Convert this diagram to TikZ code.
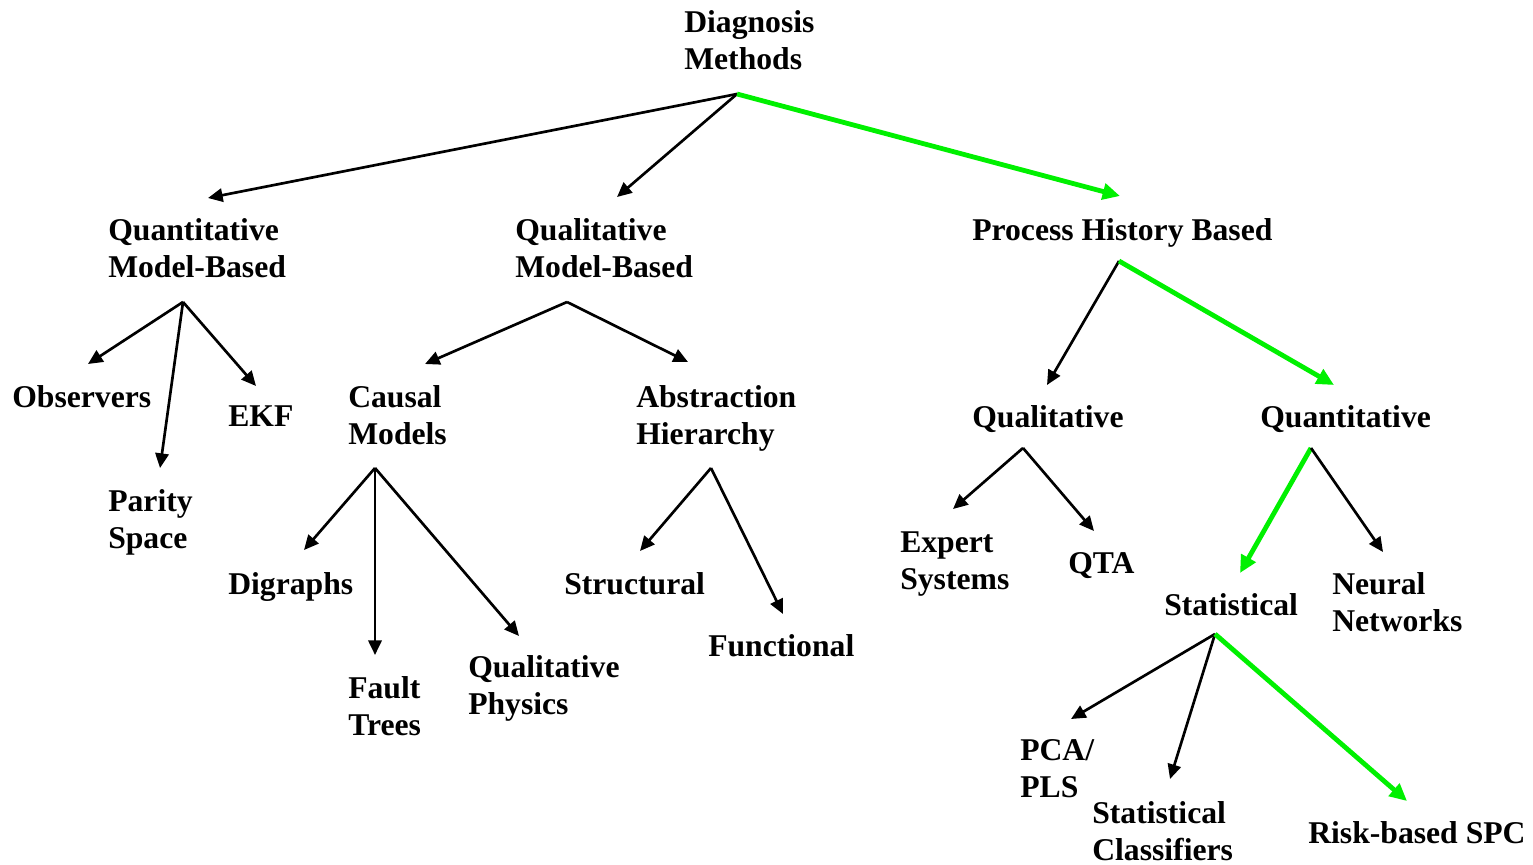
\documentclass[tikz,border=0pt]{standalone}
\usepackage{fontspec}
\setmainfont{Liberation Serif}
\usetikzlibrary{arrows.meta}
\definecolor{pathgreen}{RGB}{0,240,0}
\begin{document}
\begin{tikzpicture}[x=0.75pt,y=-0.75pt,
  lbl/.style={anchor=west,inner sep=0pt,align=left,
    font=\fontsize{23.75}{27.75}\selectfont\bfseries},
  link/.style={draw=black,line width=2pt,-{Triangle[length=11pt,width=10pt]}},
  hot/.style={draw=pathgreen,line width=3.6pt,-{Triangle[length=13pt,width=12pt]}}]
\useasboundingbox (0,0) rectangle (1533,864);

% ---- labels ----
\node[lbl] (dm)   at (684,44)    {\strut Diagnosis\\\strut Methods};
\node[lbl] (qnmb) at (108,251.5) {\strut Quantitative\\\strut Model-Based};
\node[lbl] (qlmb) at (515,251.5) {\strut Qualitative\\\strut Model-Based};
\node[lbl] (phb)  at (972,233)   {\strut Process History Based};
\node[lbl] (obs)  at (12,400)    {\strut Observers};
\node[lbl] (par)  at (108,522.5) {\strut Parity\\\strut Space};
\node[lbl] (ekf)  at (228,419)   {\strut EKF};
\node[lbl] (cm)   at (348,418.5) {\strut Causal\\\strut Models};
\node[lbl] (ah)   at (636,418.5) {\strut Abstraction\\\strut Hierarchy};
\node[lbl] (dig)  at (228,587)   {\strut Digraphs};
\node[lbl] (ft)   at (348,709.5) {\strut Fault\\\strut Trees};
\node[lbl] (qp)   at (468,688.5) {\strut Qualitative\\\strut Physics};
\node[lbl] (str)  at (564,587)   {\strut Structural};
\node[lbl] (fun)  at (708,649)   {\strut Functional};
\node[lbl] (ql)   at (972,420)   {\strut Qualitative};
\node[lbl] (qn)   at (1260,420)  {\strut Quantitative};
\node[lbl] (es)   at (900,564)   {\strut Expert\\\strut Systems};
\node[lbl] (qta)  at (1068,566)  {\strut QTA};
\node[lbl] (sta)  at (1164,608)  {\strut Statistical};
\node[lbl] (nn)   at (1332,605.5){\strut Neural\\\strut Networks};
\node[lbl] (pca)  at (1020,771.5){\strut PCA/\\\strut PLS};
\node[lbl] (sc)   at (1092,834.5){\strut Statistical\\\strut Classifiers};
\node[lbl] (risk) at (1308,836)  {\strut Risk-based SPC};

% ---- branch points below each parent ----
\coordinate (dmO)   at (737,94);
\coordinate (qnmbO) at (183,302);
\coordinate (qlmbO) at (567,302);
\coordinate (phbO)  at (1119,261);
\coordinate (cmO)   at (375,468);
\coordinate (ahO)   at (711,468);
\coordinate (qlO)   at (1023,448);
\coordinate (qnO)   at (1311,448);
\coordinate (staO)  at (1215,634);

% ---- arrow tips above each child ----
\coordinate (qnmbI) at (208,198);
\coordinate (qlmbI) at (617,197);
\coordinate (phbI)  at (1120,196);
\coordinate (obsI)  at (88,364);
\coordinate (parI)  at (160,468);
\coordinate (ekfI)  at (256,386);
\coordinate (cmI)   at (425,364);
\coordinate (ahI)   at (688,362);
\coordinate (digI)  at (304,550);
\coordinate (ftI)   at (375,655);
\coordinate (qpI)   at (519,636);
\coordinate (strI)  at (640,551);
\coordinate (funI)  at (783,614);
\coordinate (qlI)   at (1047,385);
\coordinate (qnI)   at (1334,385);
\coordinate (esI)   at (953,509);
\coordinate (qtaI)  at (1094,531);
\coordinate (staI)  at (1240,573);
\coordinate (nnI)   at (1383,552);
\coordinate (pcaI)  at (1071,719);
\coordinate (scI)   at (1170,779);
\coordinate (riskI) at (1407,801);

% ---- connectors ----
\draw[link] (dmO) -- (qnmbI);
\draw[link] (dmO) -- (qlmbI);
\draw[hot]  (dmO) -- (phbI);

\draw[link] (qnmbO) -- (obsI);
\draw[link] (qnmbO) -- (parI);
\draw[link] (qnmbO) -- (ekfI);

\draw[link] (qlmbO) -- (cmI);
\draw[link] (qlmbO) -- (ahI);

\draw[link] (cmO) -- (digI);
\draw[link] (cmO) -- (ftI);
\draw[link] (cmO) -- (qpI);

\draw[link] (ahO) -- (strI);
\draw[link] (ahO) -- (funI);

\draw[link] (phbO) -- (qlI);
\draw[hot]  (phbO) -- (qnI);

\draw[link] (qlO) -- (esI);
\draw[link] (qlO) -- (qtaI);

\draw[hot]  (qnO) -- (staI);
\draw[link] (qnO) -- (nnI);

\draw[link] (staO) -- (pcaI);
\draw[link] (staO) -- (scI);
\draw[hot]  (staO) -- (riskI);
\end{tikzpicture}
\end{document}
